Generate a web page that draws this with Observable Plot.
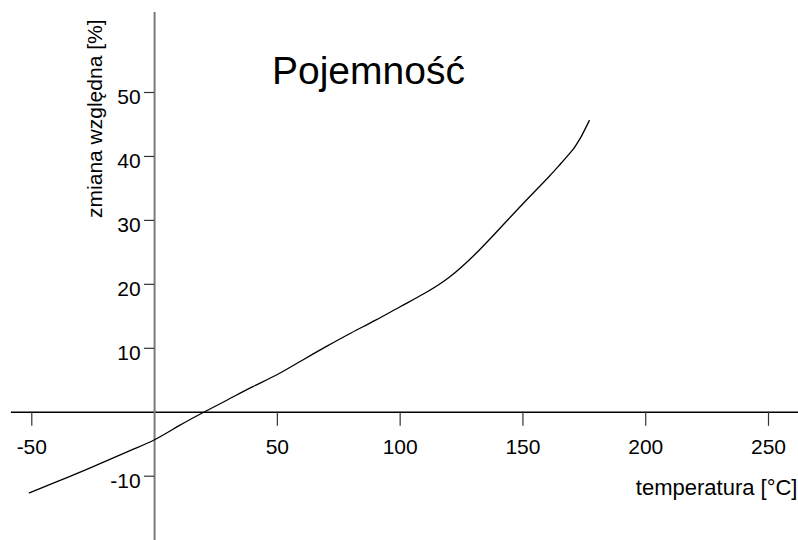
<!DOCTYPE html>
<html>
<head>
<meta charset="utf-8">
<script src="https://cdn.jsdelivr.net/npm/d3@7"></script>
<script src="https://cdn.jsdelivr.net/npm/@observablehq/plot@0.6"></script>
<style>
  html, body { margin: 0; padding: 0; background: #fff; }
  #chart svg { display: block; }
</style>
</head>
<body>
<div id="chart"></div>
<script>
// Data
const temperature = [-51, -40, -25, -10, 0, 10, 20, 30, 40, 50, 60, 70, 80, 90, 100, 110, 120, 130, 140, 150, 160, 165, 170, 172, 174, 177];
const change = [-12.6, -10.9, -8.5, -6.0, -4.3, -2.1, 0, 2.0, 4.0, 5.9, 8.1, 10.3, 12.4, 14.4, 16.5, 18.6, 21.1, 24.5, 28.5, 32.6, 36.6, 38.7, 40.9, 42.0, 43.3, 45.6];
const xTicks = [-50, 50, 100, 150, 200, 250];
const yTicks = [-10, 10, 20, 30, 40, 50];
const titleText = ["Pojemność"];
const xLabel = ["temperatura [°C]"];
const yLabel = ["zmiana względna [%]"];

const data = temperature.map((t, i) => ({t, v: change[i]}));

const font = "'Liberation Sans', Arial, Helvetica, sans-serif";

const chart = Plot.plot({
  width: 798,
  height: 540,
  marginLeft: 31.3,
  marginRight: 30,
  marginTop: 92,
  marginBottom: 64.3,
  style: {fontFamily: font, background: "#fff", overflow: "visible"},
  x: {domain: [-50, 250], axis: null},
  y: {domain: [-10, 50], axis: null},
  marks: [
    // horizontal axis line through y = 0
    Plot.ruleY([0], {x1: -58.3, x2: 262.4, stroke: "#000", strokeWidth: 1.3}),
    // vertical axis line through x = 0
    Plot.ruleX([0], {y1: -20.1, y2: 62.5, stroke: "#7a7a7a", strokeWidth: 2}),
    // x tick marks (downward)
    Plot.ruleX(xTicks, {x: d => d, y1: 0, y2: -2.2, stroke: "#333", strokeWidth: 1.2}),
    // y tick marks (leftward)
    Plot.ruleY(yTicks, {y: d => d, x1: -4.1, x2: 0, stroke: "#333", strokeWidth: 1.2}),
    // x tick labels
    Plot.text(xTicks, {x: d => d, y: 0, text: d => String(d), dy: 35, fontSize: 21, fill: "#000", textAnchor: "middle"}),
    // y tick labels
    Plot.text(yTicks, {x: 0, y: d => d, text: d => String(d), dx: -14, dy: 5, fontSize: 21, fill: "#000", textAnchor: "end"}),
    // curve
    Plot.line(data, {x: "t", y: "v", stroke: "#000", strokeWidth: 1.3, curve: "natural"}),
    // title
    Plot.text(titleText, {x: 87.1, y: 53.3, text: d => d, fontSize: 39, fill: "#000", textAnchor: "middle"}),
    // x label
    Plot.text(xLabel, {x: 261.8, y: -11.8, text: d => d, fontSize: 22, fill: "#000", textAnchor: "end"}),
    // y label
    Plot.text(yLabel, {x: -24.1, y: 45.9, text: d => d, fontSize: 21, fill: "#000", textAnchor: "middle", rotate: -90})
  ]
});
document.getElementById("chart").appendChild(chart);
</script>
</body>
</html>
